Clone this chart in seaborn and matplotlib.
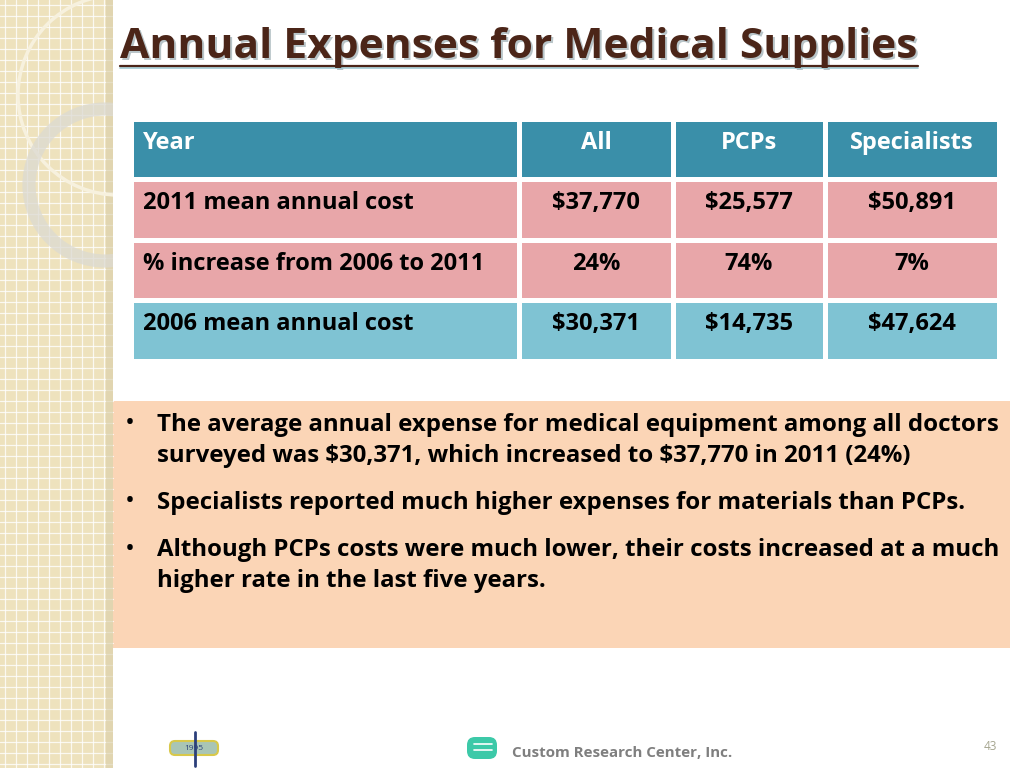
import numpy as np
import matplotlib
matplotlib.use("Agg")
import matplotlib.pyplot as plt
from matplotlib.colors import ListedColormap
from matplotlib.patches import Rectangle, Circle, FancyBboxPatch
import seaborn as sns

sns.set_theme(style="white")
plt.rcParams['font.family'] = ['Open Sans', 'DejaVu Sans']

# -----------------------------
# Data
# -----------------------------
col_names = ["Year", "All", "PCPs", "Specialists"]
row_labels = ["2011 mean annual cost", "% increase from 2006 to 2011", "2006 mean annual cost"]
cost_2011 = [37770, 25577, 50891]
pct_increase = [24, 74, 7]
cost_2006 = [30371, 14735, 47624]
row_kind = [0, 1, 1, 2]  # header, 2011 rows, 2006 row

bullets = [
    "The average annual expense for medical equipment among all doctors\nsurveyed was \\$30,371, which increased to \\$37,770 in 2011 (24%)",
    "Specialists reported much higher expenses for materials than PCPs.",
    "Although PCPs costs were much lower, their costs increased at a much\nhigher rate in the last five years.",
]

# -----------------------------
# Figure + background
# -----------------------------
W, H = 1024, 768
fig = plt.figure(figsize=(10.24, 7.68), dpi=100)
fig.patch.set_facecolor("white")
bg = fig.add_axes([0, 0, 1, 1])
bg.set_xlim(0, W)
bg.set_ylim(H, 0)
bg.axis("off")

# left decorative panel
panel = Rectangle((0, 0), 113, H, facecolor="#EEE2BD", edgecolor="none", zorder=1)
bg.add_patch(panel)
for gx in np.arange(5, 113, 11):
    bg.plot([gx, gx], [0, H], color="white", lw=0.9, alpha=0.8, zorder=2)
for gy in np.arange(5, H, 11):
    bg.plot([0, 113], [gy, gy], color="white", lw=0.9, alpha=0.8, zorder=2)
bg.add_patch(Rectangle((106, 0), 7, H, facecolor="#D9CDA8", edgecolor="none", alpha=0.6, zorder=2))
c1 = Circle((118, 95), 100, facecolor="none", edgecolor="#F7F1DE", lw=2.5, zorder=3)
c2 = Circle((105, 185), 76, facecolor="none", edgecolor="#DCDAD2", lw=9.5, alpha=0.75, zorder=3)
for c in (c1, c2):
    bg.add_patch(c)
    c.set_clip_path(panel)

# title
title = "Annual Expenses for Medical Supplies"
bg.text(122, 50, title, fontsize=30.6, fontweight="bold", color="#B8C4C8",
        va="center", ha="left", zorder=4)
bg.text(120, 48, title, fontsize=30.6, fontweight="bold", color="#4B2518",
        va="center", ha="left", zorder=5)
bg.plot([120, 918], [66, 66], color="#4B2518", lw=1.6, zorder=5)
bg.plot([120, 918], [68, 68], color="#9FC9D3", lw=1.2, zorder=4)

# -----------------------------
# Table (one heatmap per column)
# -----------------------------
col_edges = [131, 519, 673, 825, 999]
tab_top, tab_bot = 119, 361
cmap = ListedColormap(["#3A8FA9", "#E8A6A9", "#7FC3D3"])

cells = [[col_names[0]] + row_labels]
for j in range(3):
    cells.append([col_names[j + 1],
                  f"\\${cost_2011[j]:,}",
                  f"{pct_increase[j]}%",
                  f"\\${cost_2006[j]:,}"])

for j in range(4):
    x0, x1 = col_edges[j], col_edges[j + 1]
    cax = fig.add_axes([x0 / W, 1 - tab_bot / H, (x1 - x0) / W, (tab_bot - tab_top) / H])
    sns.heatmap(np.array(row_kind).reshape(-1, 1), cmap=cmap, vmin=-0.5, vmax=2.5,
                cbar=False, linewidths=2.2, linecolor="white", ax=cax)
    cax.set_xticks([])
    cax.set_yticks([])
    for i, txt in enumerate(cells[j]):
        color = "white" if i == 0 else "black"
        if j == 0:
            cax.text(12 / (x1 - x0), i + 0.39, txt, ha="left", va="center",
                     fontsize=17, fontweight="bold", color=color)
        else:
            cax.text(0.5, i + 0.39, txt, ha="center", va="center",
                     fontsize=17, fontweight="bold", color=color)

# -----------------------------
# Bullet box
# -----------------------------
bg.add_patch(Rectangle((113, 401), 897, 247, facecolor="#FBD5B6", edgecolor="none", zorder=1))
bullet_y = [423, 501, 548]
for y, b in zip(bullet_y, bullets):
    bg.text(130, y + 1, "\u2022", fontsize=19, va="center", ha="center", color="black")
    bg.text(157, y - 10, b, fontsize=17.3, fontweight="bold", va="top", ha="left",
            color="black", linespacing=1.38)

# -----------------------------
# Footer
# -----------------------------
bg.add_patch(FancyBboxPatch((467, 737), 30, 22, boxstyle="round,pad=0,rounding_size=8",
                            facecolor="#3CC9A8", edgecolor="none"))
bg.plot([474, 492], [744, 744], color="white", lw=1.2)
bg.plot([474, 492], [750, 750], color="white", lw=1.2)
bg.text(512, 753, "Custom Research Center, Inc.", fontsize=10.9, fontweight="bold",
        color="#7F7F7F", va="center", ha="left")
bg.text(990, 746, "43", fontsize=8.5, color="#A5A58F", va="center", ha="center")

# small seal logo, bottom left
seal = FancyBboxPatch((170, 741), 48, 14, boxstyle="round,pad=0,rounding_size=5",
                      facecolor="#A9C5B5", edgecolor="#D8C84A", lw=1.5)
bg.add_patch(seal)
bg.plot([195, 195], [732, 766], color="#2B3F7A", lw=2)
bg.text(194, 748, "1995", fontsize=6, color="#2B3F7A", ha="center", va="center")

fig.savefig("out.png", dpi=100)
